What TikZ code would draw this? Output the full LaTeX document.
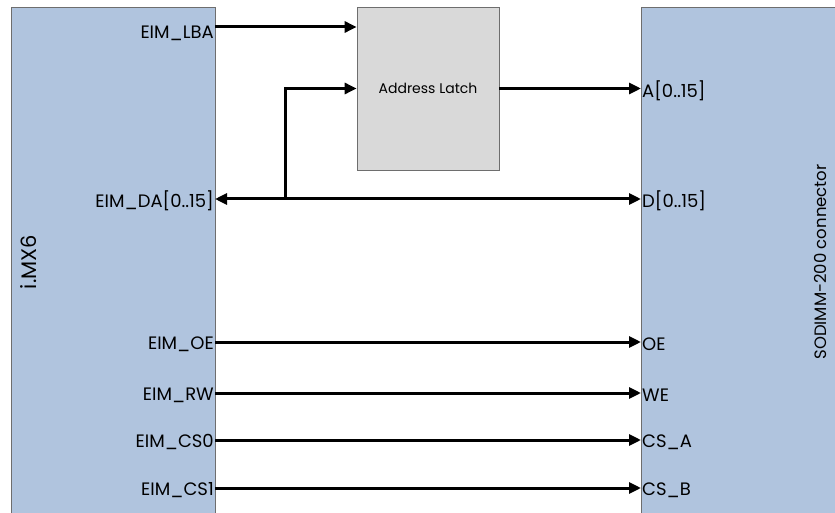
\documentclass[tikz,border=0pt]{standalone}
\usepackage{fontspec}
\setmainfont{Poppins}
\usetikzlibrary{arrows.meta}
\definecolor{chipblue}{RGB}{176,196,222}
\definecolor{chipedge}{RGB}{110,110,110}
\definecolor{latchgrey}{RGB}{217,217,217}
\tikzset{
  chip/.style={draw=chipedge, fill=chipblue, line width=0.8pt},
  latchbox/.style={draw=chipedge, fill=latchgrey, line width=0.8pt,
    minimum width=142pt, minimum height=163pt, font=\fontsize{14}{16}\selectfont},
  pinl/.style={anchor=east, inner sep=1pt, yshift=-2pt, font=\fontsize{18}{20}\selectfont},
  pinr/.style={anchor=west, inner sep=1pt, yshift=-2pt, font=\fontsize{18}{20}\selectfont},
  sig/.style={line width=3pt, -{Triangle[length=12pt,width=11pt]}},
  bus/.style={line width=3pt, {Triangle[length=12pt,width=11pt]}-{Triangle[length=12pt,width=11pt]}}
}
\begin{document}
\begin{tikzpicture}[x=1pt, y=-1pt]
\clip (0,0) rectangle (835,513);
\fill[white] (0,0) rectangle (835,513);

% the two chips
\draw [chip] (11,7) rectangle (215,530);
\draw [chip] (641,7) rectangle (850,530);
\node [rotate=90, font=\fontsize{21}{24}\selectfont] (imx) at (29,262) {i.MX6};
\node [rotate=90, font=\fontsize{16.5}{18}\selectfont] (sodimm) at (820,262) {SODIMM-200 connector};

\node [latchbox] (latch) at (428,88.5) {Address Latch};

% pins of the i.MX6
\coordinate (lba) at (215,27);
\coordinate (da) at (215,199);
\coordinate (oe) at (215,342);
\coordinate (rw) at (215,393);
\coordinate (cs0) at (215,440);
\coordinate (cs1) at (215,488);
\node [pinl, yshift=-4pt] (lbatxt) at (lba) {EIM\_LBA};
\node [pinl] (datxt) at (da) {EIM\_DA[0..15]};
\node [pinl] (oetxt) at (oe) {EIM\_OE};
\node [pinl] (rwtxt) at (rw) {EIM\_RW};
\node [pinl] (cs0txt) at (cs0) {EIM\_CS0};
\node [pinl] (cs1txt) at (cs1) {EIM\_CS1};

% pins of the connector
\coordinate (a) at (641,88.5);
\coordinate (d) at (641,199);
\coordinate (oeb) at (641,342);
\coordinate (we) at (641,393);
\coordinate (csa) at (641,440);
\coordinate (csb) at (641,488);
\node [pinr] (atxt) at (a) {A[0..15]};
\node [pinr] (dtxt) at (d) {D[0..15]};
\node [pinr] (oebtxt) at (oeb) {OE};
\node [pinr] (wetxt) at (we) {WE};
\node [pinr] (csatxt) at (csa) {CS\_A};
\node [pinr] (csbtxt) at (csb) {CS\_B};

\coordinate (tap) at (285,199);

\draw [sig] (lba) -- (lba -| latch.west);
\draw [bus] (da) -- (d);
\draw [sig] (tap) |- (latch.west);
\draw [sig] (latch.east) -- (a);
\draw [sig] (oe) -- (oeb);
\draw [sig] (rw) -- (we);
\draw [sig] (cs0) -- (csa);
\draw [sig] (cs1) -- (csb);
\end{tikzpicture}
\end{document}
